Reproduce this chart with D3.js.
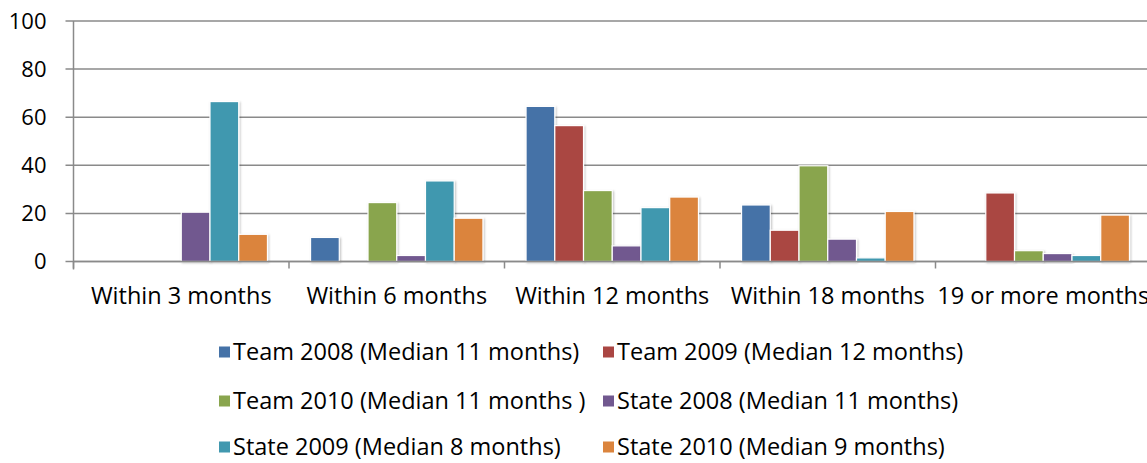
<!DOCTYPE html>
<html>
<head>
<meta charset="utf-8">
<script src="https://cdn.jsdelivr.net/npm/d3@7"></script>
<style>
  body { margin: 0; background: #fff; }
  svg { display: block; font-family: "Open Sans", sans-serif; }
</style>
</head>
<body>
<svg id="chart" width="1147" height="463"></svg>
<script>
// chart data
const categories = ["Within 3 months", "Within 6 months", "Within 12 months", "Within 18 months", "19 or more months"];
const seriesNames = [
  "Team 2008 (Median 11 months)",
  "Team 2009 (Median 12 months)",
  "Team 2010 (Median 11 months )",
  "State 2008 (Median 11 months)",
  "State 2009 (Median 8 months)",
  "State 2010 (Median 9 months)"
];
const team2008 = [0, 10, 64.5, 23.5, 0];
const team2009 = [0, 0, 56.5, 13, 28.5];
const team2010 = [0, 24.5, 29.5, 39.8, 4.5];
const state2008 = [20.5, 2.5, 6.5, 9.3, 3.3];
const state2009 = [66.5, 33.5, 22.4, 1.5, 2.5];
const state2010 = [11.3, 18, 26.8, 20.8, 19.3];
const yTicks = [0, 20, 40, 60, 80, 100];
const colors = ["#4572A7", "#AA4643", "#89A54E", "#71588F", "#4198AF", "#DB843D"];

const seriesValues = [team2008, team2009, team2010, state2008, state2009, state2010];

const svg = d3.select("#chart");
const width = 1147;

// soft shadow under the bars
svg.append("defs").append("filter")
  .attr("id", "shadow")
  .attr("x", "-20%").attr("y", "-20%").attr("width", "140%").attr("height", "140%")
  .append("feDropShadow")
  .attr("dx", 1).attr("dy", 1).attr("stdDeviation", 1)
  .attr("flood-color", "#000").attr("flood-opacity", 0.25);

// plot bounds
let margin = {top: 21, left: 73.5, right: -4};
let plotBottom = 261.5;

let xScale = d3.scaleBand()
  .domain(categories)
  .range([margin.left, width - margin.right])
  .paddingInner(0).paddingOuter(0);

let xInner = d3.scaleBand()
  .domain(d3.range(seriesNames.length))
  .range([0, xScale.bandwidth()])
  .paddingInner(0).paddingOuter(0.75);

let yScale = d3.scaleLinear()
  .domain([0, 100])
  .range([plotBottom, margin.top]);

// gridlines
svg.append("g")
  .selectAll("line")
  .data(yTicks)
  .join("line")
  .attr("x1", margin.left - 8)
  .attr("x2", width)
  .attr("y1", d => yScale(d))
  .attr("y2", d => yScale(d))
  .attr("stroke", "#8a8a8a")
  .attr("stroke-width", 1.5);

// y axis
let yAxis = svg.append("g")
  .attr("transform", "translate(" + margin.left + ",0)")
  .call(d3.axisLeft(yScale).tickValues(yTicks).tickSize(0).tickPadding(27))
  .attr("font-family", null)
  .attr("font-size", null);
yAxis.select(".domain").remove();
yAxis.selectAll("text")
  .attr("font-size", 22)
  .attr("fill", "#000");

// bars
let groups = svg.append("g")
  .selectAll("g")
  .data(seriesValues)
  .join("g")
  .attr("fill", (d, i) => colors[i]);

groups.each(function(vals, si) {
  d3.select(this).selectAll("rect")
    .data(vals.map((v, ci) => ({v: v, c: categories[ci]})))
    .join("rect")
    .filter(d => d.v > 0)
    .attr("x", d => xScale(d.c) + xInner(si))
    .attr("width", xInner.bandwidth())
    .attr("y", d => yScale(d.v))
    .attr("height", d => plotBottom - yScale(d.v))
    .attr("stroke", "#fff")
    .attr("stroke-width", 1.2)
    .attr("filter", "url(#shadow)");
});

// x axis line and boundary ticks
svg.append("line")
  .attr("x1", margin.left).attr("x2", width)
  .attr("y1", plotBottom).attr("y2", plotBottom)
  .attr("stroke", "#8a8a8a").attr("stroke-width", 1.5);
svg.append("line")
  .attr("x1", margin.left).attr("x2", margin.left)
  .attr("y1", margin.top).attr("y2", plotBottom + 8)
  .attr("stroke", "#8a8a8a").attr("stroke-width", 1.5);

let boundaries = categories.map(c => xScale(c)).concat([xScale.range()[1]]);
svg.append("g")
  .selectAll("line")
  .data(boundaries)
  .join("line")
  .attr("x1", d => d).attr("x2", d => d)
  .attr("y1", plotBottom).attr("y2", plotBottom + 7)
  .attr("stroke", "#8a8a8a").attr("stroke-width", 1.5);

// category labels
svg.append("g")
  .selectAll("text")
  .data(categories)
  .join("text")
  .attr("x", d => xScale(d) + xScale.bandwidth() / 2)
  .attr("y", 304)
  .attr("text-anchor", "middle")
  .attr("font-size", 23.5)
  .attr("fill", "#000")
  .text(d => d);

// legend
let legendX = [219, 603];
let legendY = [352, 401, 447];
let legend = svg.append("g")
  .selectAll("g")
  .data(seriesNames)
  .join("g")
  .attr("transform", (d, i) => "translate(" + legendX[i % 2] + "," + legendY[Math.floor(i / 2)] + ")");
legend.append("rect")
  .attr("x", 0).attr("y", -5.5)
  .attr("width", 11).attr("height", 11)
  .attr("fill", (d, i) => colors[i]);
legend.append("text")
  .attr("x", 14)
  .attr("y", 0)
  .attr("dy", "0.35em")
  .attr("font-size", 23.5)
  .attr("fill", "#000")
  .text(d => d);
</script>
</body>
</html>
